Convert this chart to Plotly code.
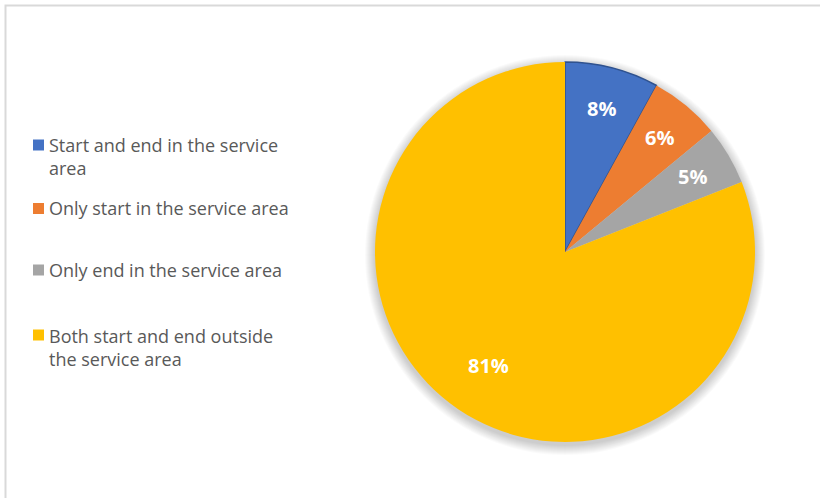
import math
import plotly.graph_objects as go

# Trip categories and their shares (%)
categories = [
    "Start and end in the service area",
    "Only start in the service area",
    "Only end in the service area",
    "Both start and end outside the service area",
]
legend_lines = [
    "Start and end in the service<br>area",
    "Only start in the service area",
    "Only end in the service area",
    "Both start and end outside<br>the service area",
]
shares = [8, 6, 5, 81]
colors = ["#4472C4", "#ED7D31", "#A5A5A5", "#FFC000"]
edge_colors = ["#2F528F", "#ED7D31", "#A5A5A5", "#FFC000"]
edge_widths = [1.5, 0, 0, 0]

W, H = 820, 498
cx, cy, r = 565, 252, 190  # pie centre / radius in pixels
label_radius = [0.78, 0.78, 0.78, 0.72]  # fraction of radius for data labels


def px_x(v):
    return v / W


def px_y(v):
    return 1 - v / H


fig = go.Figure()
fig.add_trace(go.Pie(
    labels=categories,
    values=shares,
    sort=False,
    direction="clockwise",
    rotation=0,
    marker=dict(colors=colors, line=dict(color=edge_colors, width=edge_widths)),
    textinfo="none",
    domain=dict(x=[px_x(cx - r), px_x(cx + r)], y=[px_y(cy + r), px_y(cy - r)]),
    showlegend=False,
    hoverinfo="label+percent",
))

shapes = []
# soft drop shadow under the pie
for k in range(10, 0, -1):
    rr = r + k
    shapes.append(dict(
        type="circle", xref="paper", yref="paper", layer="below",
        x0=px_x(cx - rr), x1=px_x(cx + rr),
        y0=px_y(cy + 3 + rr), y1=px_y(cy + 3 - rr),
        fillcolor="rgba(0,0,0,0.018)", line=dict(width=0),
    ))
# chart frame
shapes.append(dict(
    type="rect", xref="paper", yref="paper",
    x0=px_x(5.5), x1=1.05, y0=-0.05, y1=px_y(5.5),
    line=dict(color="#D9D9D9", width=2), fillcolor="rgba(0,0,0,0)",
))

annotations = []
# data labels at each slice's mid-angle (clockwise from 12 o'clock)
total = sum(shares)
cum = 0
for val, f in zip(shares, label_radius):
    mid = (cum + val / 2) / total * 2 * math.pi
    cum += val
    lx = cx + math.sin(mid) * r * f
    ly = cy - math.cos(mid) * r * f
    annotations.append(dict(
        text=f"{round(val / total * 100)}%", xref="paper", yref="paper",
        x=px_x(lx), y=px_y(ly), xanchor="center", yanchor="middle",
        showarrow=False,
        font=dict(family="Open Sans", size=20, color="white", weight="bold"),
    ))

# legend: markers and labels
legend_centres = [157, 208, 270, 347]
marker_centres = [145, 208.5, 270, 335]
for text, color, yc, ym in zip(legend_lines, colors, legend_centres, marker_centres):
    shapes.append(dict(
        type="rect", xref="paper", yref="paper",
        x0=px_x(33), x1=px_x(44), y0=px_y(ym + 5.5), y1=px_y(ym - 5.5),
        fillcolor=color, line=dict(width=0),
    ))
    annotations.append(dict(
        text=text, xref="paper", yref="paper",
        x=px_x(47), y=px_y(yc), xanchor="left", yanchor="middle",
        align="left", showarrow=False,
        font=dict(family="Open Sans", size=18, color="#595959"),
    ))

fig.update_layout(
    width=W, height=H,
    margin=dict(l=0, r=0, t=0, b=0),
    paper_bgcolor="white",
    plot_bgcolor="white",
    shapes=shapes,
    annotations=annotations,
)

fig.write_html("out.html")
